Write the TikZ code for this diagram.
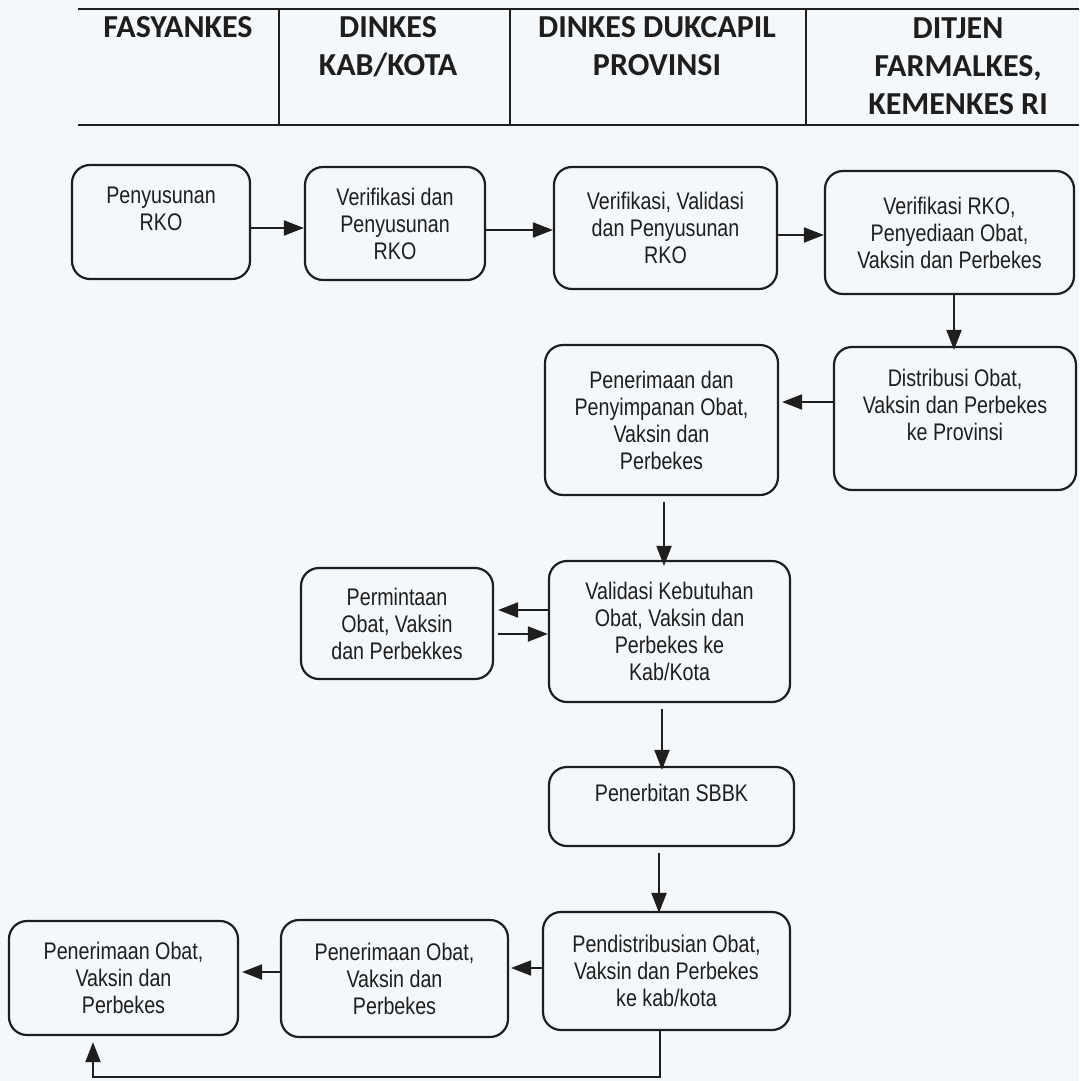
\documentclass[tikz,border=0pt]{standalone}
\usepackage{fontspec}
\setmainfont[FakeStretch=0.82]{Liberation Sans}
\newfontfamily\hdrfont{Carlito}
\usetikzlibrary{arrows.meta}
\definecolor{paper}{HTML}{F4F8FB}
\definecolor{ink}{HTML}{1E1E1E}
\begin{document}
\begin{tikzpicture}[x=1pt,y=-1pt,
  box/.style={draw=ink,line width=2.2pt,rounded corners=18pt,align=center,
    inner sep=0pt,text=ink,font=\fontsize{24}{27}\selectfont},
  hdr/.style={anchor=north,align=center,inner sep=0pt,text=ink,
    font=\hdrfont\bfseries\fontsize{32}{38}\selectfont},
  arr/.style={draw=ink,line width=2pt,-{Triangle[length=20pt,width=15pt]}},
  rule/.style={draw=ink,line width=1.6pt}]
\fill[paper] (0,0) rectangle (1079,1081);
\useasboundingbox (0,0) rectangle (1079,1081);
% header table
\draw[rule] (78,9) -- (1079,9);
\draw[rule] (78,125) -- (1079,125);
\draw[rule] (279,9) -- (279,125);
\draw[rule] (510,9) -- (510,125);
\draw[rule] (806,9) -- (806,125);
\node[hdr] (h1) at (178,16) {FASYANKES};
\node[hdr] (h2) at (388,16) {DINKES\\KAB/KOTA};
\node[hdr] (h3) at (657,16) {DINKES DUKCAPIL\\PROVINSI};
\node[hdr] (h4) at (958,18) {DITJEN\\FARMALKES,\\KEMENKES RI};
% boxes
\node[box,minimum width=178pt,minimum height=114pt] (b1) at (161,222) {Penyusunan\\RKO\\~};
\node[box,minimum width=180pt,minimum height=113pt] (b2) at (395,223.5) {Verifikasi dan\\Penyusunan\\RKO};
\node[box,minimum width=223pt,minimum height=122pt] (b3) at (665.5,228) {Verifikasi, Validasi\\dan Penyusunan\\RKO};
\node[box,minimum width=249pt,minimum height=123pt] (b4) at (949.5,232.5) {Verifikasi RKO,\\Penyediaan Obat,\\Vaksin dan Perbekes};
\node[box,minimum width=242pt,minimum height=143pt] (b5) at (955,418.5) {Distribusi Obat,\\Vaksin dan Perbekes\\ke Provinsi\\~};
\node[box,minimum width=233pt,minimum height=150pt] (b6) at (661.5,420) {Penerimaan dan\\Penyimpanan Obat,\\Vaksin dan\\Perbekes};
\node[box,minimum width=241pt,minimum height=141pt] (b7) at (669.5,631.5) {Validasi Kebutuhan\\Obat, Vaksin dan\\Perbekes ke\\Kab/Kota};
\node[box,minimum width=192pt,minimum height=111pt] (b8) at (397,623.5) {Permintaan\\Obat, Vaksin\\dan Perbekkes};
\node[box,minimum width=245pt,minimum height=79pt] (b9) at (671.5,806.5) {Penerbitan SBBK\\~};
\node[box,minimum width=247pt,minimum height=118pt] (b10) at (666.5,971) {Pendistribusian Obat,\\Vaksin dan Perbekes\\ke kab/kota};
\node[box,minimum width=227pt,minimum height=117pt] (b11) at (394.5,978.5) {Penerimaan Obat,\\Vaksin dan\\Perbekes};
\node[box,minimum width=229pt,minimum height=114pt] (b12) at (123.5,978) {Penerimaan Obat,\\Vaksin dan\\Perbekes};
% connectors
\draw[arr] (b1.east |- 0,228) -- (b2.west |- 0,228);
\draw[arr] (b2.east |- 0,230) -- (b3.west |- 0,230);
\draw[arr] (b3.east |- 0,235) -- (b4.west |- 0,235);
\draw[arr] (b4.south -| 954,0) -- ([yshift=-4pt]b5.north -| 954,0);
\draw[arr] (b5.west |- 0,402) -- ([xshift=3pt]b6.east |- 0,402);
\draw[arr] ([yshift=-6pt]b6.south -| 664,0) -- ([yshift=-6pt]b7.north -| 664,0);
\draw[arr] (b7.west |- 0,610) -- ([xshift=4pt]b8.east |- 0,610);
\draw[arr] ([xshift=4pt]b8.east |- 0,634) -- (b7.west |- 0,634);
\draw[arr] ([yshift=-6pt]b7.south -| 662,0) -- ([yshift=-4pt]b9.north -| 662,0);
\draw[arr] ([yshift=-6pt]b9.south -| 659,0) -- ([yshift=-2pt]b10.north -| 659,0);
\draw[arr] (b10.west |- 0,968) -- ([xshift=2pt]b11.east |- 0,968);
\draw[arr] (b11.west |- 0,972) -- ([xshift=3pt]b12.east |- 0,972);
\coordinate (loopc) at (93,1077);
\draw[arr] (b10.south -| 660,0) |- (loopc) -- ([yshift=-6pt]b12.south -| loopc);
\end{tikzpicture}
\end{document}
